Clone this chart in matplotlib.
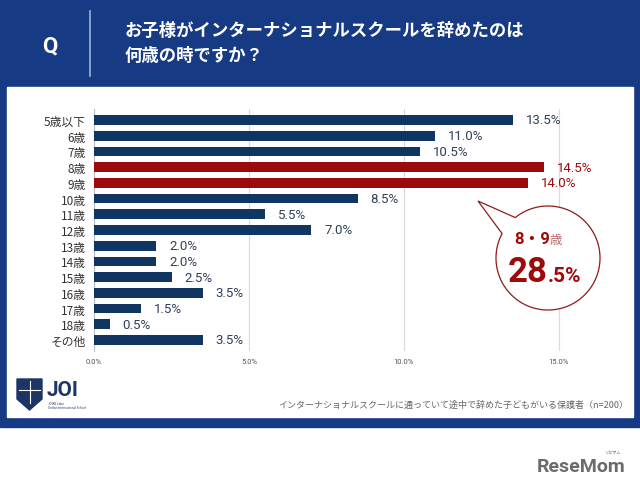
import numpy as np
import matplotlib.pyplot as plt
from matplotlib.patches import Rectangle, Polygon

plt.rcParams['font.family'] = ['Noto Sans CJK JP', 'DejaVu Sans']

# データ
ages = ["5歳以下", "6歳", "7歳", "8歳", "9歳", "10歳", "11歳", "12歳",
        "13歳", "14歳", "15歳", "16歳", "17歳", "18歳", "その他"]
values = [13.5, 11.0, 10.5, 14.5, 14.0, 8.5, 5.5, 7.0,
          2.0, 2.0, 2.5, 3.5, 1.5, 0.5, 3.5]
highlight = ["8歳", "9歳"]
x_ticks = [0, 5, 10, 15]
title_lines = ["お子様がインターナショナルスクールを辞めたのは", "何歳の時ですか？"]
note = "インターナショナルスクールに通っていて途中で辞めた子どもがいる保護者（n=200）"

NAVY = "#0f3661"
RED = "#9c0a0a"
FRAME = "#173a84"

fig = plt.figure(figsize=(6.4, 4.85), dpi=100)

# 背景（ピクセル座標）
bg = fig.add_axes([0, 0, 1, 1], zorder=0)
bg.set_xlim(0, 640)
bg.set_ylim(485, 0)
bg.axis("off")
bg.add_patch(Rectangle((0, 0), 640, 428, color=FRAME))
bg.add_patch(Rectangle((7, 88), 626, 330, color="white"))
bg.text(50, 46, "Q", color="white", fontsize=16, fontweight="bold",
        ha="center", va="center", family=["Roboto", "DejaVu Sans"])
bg.plot([90, 90], [12, 77], color="#9fb3d9", lw=1.2)
bg.text(125, 31, title_lines[0], color="white", fontsize=12.5, fontweight="bold", va="center")
bg.text(125, 56, title_lines[1], color="white", fontsize=12.5, fontweight="bold", va="center")
bg.text(628, 405, note, color="#666666", fontsize=6.5, ha="right", va="center")

# ロゴ
shield = [(17, 380), (42, 380), (42, 400), (29.5, 411), (17, 400)]
bg.add_patch(Polygon(shield, closed=True, fc="#1d3566", ec="#1d3566"))
bg.plot([29.5, 29.5], [382, 404], color="white", lw=0.8)
bg.plot([19, 40], [391, 391], color="white", lw=0.8)
bg.text(47, 391, "JOI", color="#1d3566", fontsize=15, fontweight="bold",
        va="center", family=["Roboto", "DejaVu Sans"])
bg.text(48, 406, "JOIKE Labo\nOnline International School", color="#1d3566",
        fontsize=2.2, va="center", linespacing=1.0)

bg.text(625, 467, "ReseMom", color="#6b6b6b", fontsize=14, fontweight="bold",
        ha="right", va="center", family=["Roboto", "DejaVu Sans"])
bg.text(612, 453, "リセマム", color="#6b6b6b", fontsize=3, ha="center", va="center")

# 棒グラフ
ax = fig.add_axes([94 / 640, 1 - 352 / 485, 511.5 / 640, 242 / 485], zorder=2)
ax.patch.set_alpha(0)
y = np.arange(len(ages))
colors = [RED if a in highlight else NAVY for a in ages]
ax.barh(y, values, height=0.62, color=colors, zorder=3)
for yi, v, c in zip(y, values, colors):
    lc = RED if c == RED else "#2d3f5a"
    ax.text(v + 0.42, yi, f"{v:.1f}%", color=lc, fontsize=9.5, va="center",
            family=["Roboto", "DejaVu Sans"])

ax.set_xlim(0, 16.5)
ax.set_ylim(len(ages) - 0.3, -0.7)
ax.set_yticks(y)
ax.set_yticklabels(ages, fontsize=8.5, color="#333333")
ax.set_xticks(x_ticks)
ax.set_xticklabels([f"{t:.1f}%" for t in x_ticks], fontsize=5.5, color="#555555",
                   family=["Roboto", "DejaVu Sans"])
ax.tick_params(length=0)
ax.tick_params(axis="y", pad=6)
ax.tick_params(axis="x", pad=5)
ax.grid(axis="x", color="#d9d9d9", lw=0.8, zorder=0)
for s in ["top", "right", "bottom"]:
    ax.spines[s].set_visible(False)
ax.spines["left"].set_color("#bfbfbf")

# 吹き出し
fg = fig.add_axes([0, 0, 1, 1], zorder=4)
fg.set_xlim(0, 640)
fg.set_ylim(485, 0)
fg.axis("off")
cx, cy, r = 548, 259, 52
a1, a2 = np.radians(129), np.radians(152)
th = np.linspace(a2, a1 + 2 * np.pi, 200)
pts = [(cx + r * np.cos(t), cy - r * np.sin(t)) for t in th]
pts.append((478, 202))
fg.add_patch(Polygon(pts, closed=True, fc="white", ec="#8e1b1b", lw=0.9))
fg.text(550, 240, "8・9", color=RED, fontsize=12, fontweight="bold",
        ha="right", va="center", family=["Roboto", "Noto Sans CJK JP"])
fg.text(550, 241, "歳", color="#b56a6a", fontsize=9, ha="left", va="center")
fg.text(548, 273, "28", color=RED, fontsize=25, fontweight="bold",
        ha="right", va="center", family=["Roboto", "DejaVu Sans"])
fg.text(548, 277, ".5%", color=RED, fontsize=15, fontweight="bold",
        ha="left", va="center", family=["Roboto", "DejaVu Sans"])

fig.savefig("out.png", dpi=100)
